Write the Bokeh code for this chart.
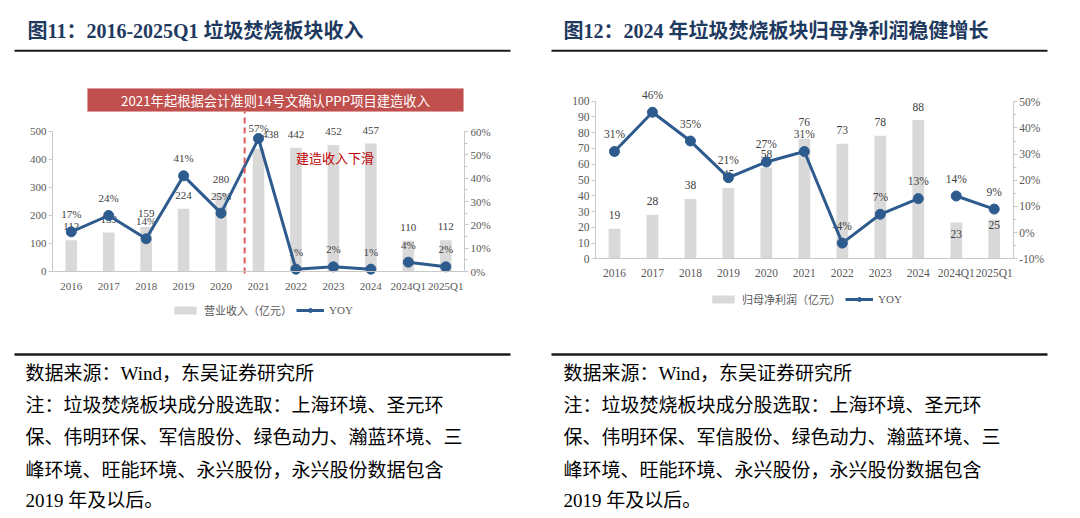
from bokeh.plotting import figure
from bokeh.models import (ColumnDataSource, Range1d, LinearAxis, FixedTicker,
                          PrintfTickFormatter, Label, BoxAnnotation, Legend, LegendItem)
from bokeh.layouts import row
from bokeh.embed import file_html
from bokeh.resources import INLINE
from bokeh.core.properties import value

# ---------------- data ----------------
categories = ["2016", "2017", "2018", "2019", "2020", "2021", "2022", "2023", "2024", "2024Q1", "2025Q1"]
revenue = [112, 139, 159, 224, 280, 438, 442, 452, 457, 110, 112]          # 营业收入（亿元）
revenue_yoy = [17, 24, 14, 41, 25, 57, 1, 2, 1, 4, 2]                      # YOY %
profit = [19, 28, 38, 45, 58, 76, 73, 78, 88, 23, 25]                       # 归母净利润（亿元）
profit_yoy = [31, 46, 35, 21, 27, 31, -4, 7, 13, 14, 9]                     # YOY %
n_annual = 9   # 2016-2024 annual points; the two quarterly points form a separate line

left_ticks = [0, 100, 200, 300, 400, 500]
left_pct_ticks = [0, 10, 20, 30, 40, 50, 60]
left_pct_minor = [5, 15, 25, 35, 45, 55]
right_ticks = [0, 10, 20, 30, 40, 50, 60, 70, 80, 90, 100]
right_pct_ticks = [-10, 0, 10, 20, 30, 40, 50]
right_pct_minor = [-5, 5, 15, 25, 35, 45]

title_left = "图11：2016-2025Q1 垃圾焚烧板块收入"
title_right = "图12：2024 年垃圾焚烧板块归母净利润稳健增长"
banner_text = "2021年起根据会计准则14号文确认PPP项目建造收入"
callout_text = "建造收入下滑"
legend_bar_left = "营业收入（亿元）"
legend_bar_right = "归母净利润（亿元）"
legend_line = "YOY"
notes = ["数据来源：Wind，东吴证券研究所",
         "注：垃圾焚烧板块成分股选取：上海环境、圣元环",
         "保、伟明环保、军信股份、绿色动力、瀚蓝环境、三",
         "峰环境、旺能环境、永兴股份，永兴股份数据包含",
         "2019 年及以后。"]

# ---------------- style ----------------
SERIF = "Liberation Serif, Noto Sans CJK SC"
CJK = "Noto Sans CJK SC"
BLUE = "#2e5b8e"
BAR = "#d9d9d9"
AX_LINE = "#c8c8c8"
TICK_TXT = "#595959"
LBL = "#404040"
TITLE = "#1f3a5f"
H = 518


def lin(a):
    # a = (px0, v0, px1, v1): linear map from canvas pixel to data value
    px0, v0, px1, v1 = a
    return lambda px: v0 + (px - px0) * (v1 - v0) / (px1 - px0)


def panel(WIDTH, xcal, ycal, pcal, vals, yoy, y_ticks, pct_ticks, pct_minor, fs,
          bar_off, bar_xoff, yoy_off, legend_label, legend_loc, title, title_x, text_x, rule_x):
    fx, fy, fp = lin(xcal), lin(ycal), lin(pcal)
    n = len(categories)
    p = figure(width=WIDTH, height=H, x_range=Range1d(fx(0), fx(WIDTH)),
               y_range=Range1d(fy(H), fy(0)), output_backend="svg", toolbar_location=None,
               x_axis_location=None, y_axis_location=None, min_border=0,
               background_fill_color="white", border_fill_color="white")
    p.title.visible = False
    p.outline_line_color = None
    p.grid.visible = False
    p.extra_y_ranges = {"pct": Range1d(fp(H), fp(0))}

    xa = LinearAxis(ticker=FixedTicker(ticks=list(range(n))),
                    major_label_overrides={i: c for i, c in enumerate(categories)},
                    fixed_location=0, bounds=(-0.5, n - 0.5))
    xa.axis_line_color = AX_LINE
    xa.major_tick_line_color = None
    xa.minor_tick_line_color = None
    xa.major_tick_out = 0
    xa.minor_tick_out = 0
    xa.major_label_text_font = SERIF
    xa.major_label_text_font_size = fs
    xa.major_label_text_color = TICK_TXT
    xa.major_label_standoff = 8
    p.add_layout(xa, "below")

    ya = LinearAxis(ticker=FixedTicker(ticks=y_ticks), fixed_location=-0.5,
                    bounds=(y_ticks[0], y_ticks[-1]))
    ya.axis_line_color = AX_LINE
    ya.major_tick_line_color = AX_LINE
    ya.major_tick_out = 4
    ya.major_tick_in = 0
    ya.minor_tick_line_color = None
    ya.major_label_text_font = SERIF
    ya.major_label_text_font_size = fs
    ya.major_label_text_color = TICK_TXT
    ya.major_label_standoff = 2
    p.add_layout(ya, "left")

    ra = LinearAxis(y_range_name="pct", ticker=FixedTicker(ticks=pct_ticks, minor_ticks=pct_minor),
                    formatter=PrintfTickFormatter(format="%d%%"), fixed_location=n - 0.5,
                    bounds=(pct_ticks[0], pct_ticks[-1]))
    ra.axis_line_color = AX_LINE
    ra.major_tick_line_color = AX_LINE
    ra.minor_tick_line_color = AX_LINE
    ra.major_tick_out = 4
    ra.major_tick_in = 0
    ra.minor_tick_out = 3
    ra.minor_tick_in = 0
    ra.major_label_text_font = SERIF
    ra.major_label_text_font_size = fs
    ra.major_label_text_color = TICK_TXT
    ra.major_label_standoff = 2
    p.add_layout(ra, "right")

    src = ColumnDataSource(dict(x=list(range(n)), v=vals, vt=[str(v) for v in vals],
                                boff=bar_off, bxoff=bar_xoff, y=yoy,
                                yt=[f"{v}%" for v in yoy], yoff=yoy_off))
    bars = p.vbar(x="x", top="v", bottom=0, width=0.31, source=src, fill_color=BAR, line_color=None)
    p.text(x="x", y="v", text="vt", source=src, x_offset="bxoff", y_offset="boff",
           text_align="center", text_baseline="middle", text_font=value(SERIF),
           text_font_size=fs, text_color=LBL)
    p.text(x="x", y="y", text="yt", source=src, y_range_name="pct", y_offset="yoff",
           text_align="center", text_baseline="middle", text_font=value(SERIF),
           text_font_size=fs, text_color=LBL)

    a = ColumnDataSource(dict(x=list(range(n_annual)), y=yoy[:n_annual]))
    q = ColumnDataSource(dict(x=list(range(n_annual, n)), y=yoy[n_annual:]))
    l1 = p.line("x", "y", source=a, y_range_name="pct", line_color=BLUE, line_width=3)
    s1 = p.scatter("x", "y", source=a, y_range_name="pct", size=10, fill_color=BLUE, line_color=BLUE)
    p.line("x", "y", source=q, y_range_name="pct", line_color=BLUE, line_width=3)
    p.scatter("x", "y", source=q, y_range_name="pct", size=10, fill_color=BLUE, line_color=BLUE)

    legend = Legend(items=[LegendItem(label=legend_label, renderers=[bars]),
                           LegendItem(label=legend_line, renderers=[l1, s1])],
                    orientation="horizontal", location=legend_loc, glyph_width=28, glyph_height=10,
                    label_height=10, label_width=10, label_standoff=5, spacing=4, padding=0,
                    margin=0, border_line_color=None, background_fill_alpha=0,
                    label_text_font=SERIF, label_text_font_size="11px",
                    label_text_color=TICK_TXT)
    p.add_layout(legend)

    # header / footer
    p.add_layout(Label(x=fx(title_x), y=fy(30), text=title, text_font=SERIF, text_font_size="20px",
                       text_font_style="bold", text_color=TITLE, text_baseline="middle"))
    for py0, py1 in [(49.3, 51.3), (352.8, 355.3)]:
        p.add_layout(BoxAnnotation(left=fx(rule_x[0]), right=fx(rule_x[1]), top=fy(py0),
                                   bottom=fy(py1), fill_color="#1a1a1a", fill_alpha=1,
                                   line_color=None))
    for line_text, py in zip(notes, [373, 405, 437, 470, 500]):
        p.add_layout(Label(x=fx(text_x), y=fy(py), text=line_text, text_font=SERIF,
                           text_font_size="19px", text_color="#000000", text_baseline="middle"))
    return p, fx, fy


# ---------------- left panel (canvas x 0..540) ----------------
lb_off = [-13.5] * len(categories)
lb_xoff = [0] * len(categories)
ly_off = [-17.5] * len(categories)
lb_xoff[5] = 12
lb_off[5] = -14
ly_off[5] = -11
p1, fx1, fy1 = panel(540, xcal=(52, -0.5, 464, 10.5), ycal=(271, 0, 131, 500),
                     pcal=(271, 0, 131, 60), vals=revenue, yoy=revenue_yoy,
                     y_ticks=left_ticks, pct_ticks=left_pct_ticks, pct_minor=left_pct_minor,
                     fs="11px", bar_off=lb_off, bar_xoff=lb_xoff, yoy_off=ly_off,
                     legend_label=legend_bar_left, legend_loc=(171, H - 318), title=title_left,
                     title_x=27, text_x=25, rule_x=(14, 510))
# dashed divider between 2020 and 2021 (just right of the category boundary)
divider_x = categories.index("2021") - 0.37
p1.segment(x0=[divider_x], y0=[fy1(273)], x1=[divider_x], y1=[fy1(111)],
           line_color="#e05a5a", line_width=2, line_dash="6 4")
p1.add_layout(BoxAnnotation(left=fx1(87), right=fx1(463), top=fy1(88), bottom=fy1(111),
                            fill_color="#c0504d", fill_alpha=1, line_color="#d98c8a", line_width=1))
p1.add_layout(Label(x=fx1(275), y=fy1(99.5), text=banner_text, text_font=CJK,
                    text_font_size="13.3px", text_color="white", text_align="center",
                    text_baseline="middle"))
p1.add_layout(Label(x=fx1(334.5), y=fy1(156.7), text=callout_text, text_font=CJK,
                    text_font_size="13px", text_color="#c00000", text_align="center",
                    text_baseline="middle"))

# ---------------- right panel (canvas x 540..1072) ----------------
rb_off = [-13.5] * len(categories)
rb_xoff = [0] * len(categories)
ry_off = [-17.5] * len(categories)
rb_off[5] = -17
rb_off[9] = 11
rb_off[10] = 5.5
p2, fx2, fy2 = panel(532, xcal=(55, -0.5, 472.7, 10.5), ycal=(258.3, 0, 100.7, 100),
                     pcal=(258.3, -10, 101.3, 50), vals=profit, yoy=profit_yoy,
                     y_ticks=right_ticks, pct_ticks=right_pct_ticks, pct_minor=right_pct_minor,
                     fs="11.5px", bar_off=rb_off, bar_xoff=rb_xoff, yoy_off=ry_off,
                     legend_label=legend_bar_right, legend_loc=(169, H - 307), title=title_right,
                     title_x=23, text_x=23, rule_x=(11, 507))

layout = row(p1, p2)
open("out.html", "w").write(file_html(layout, INLINE))
